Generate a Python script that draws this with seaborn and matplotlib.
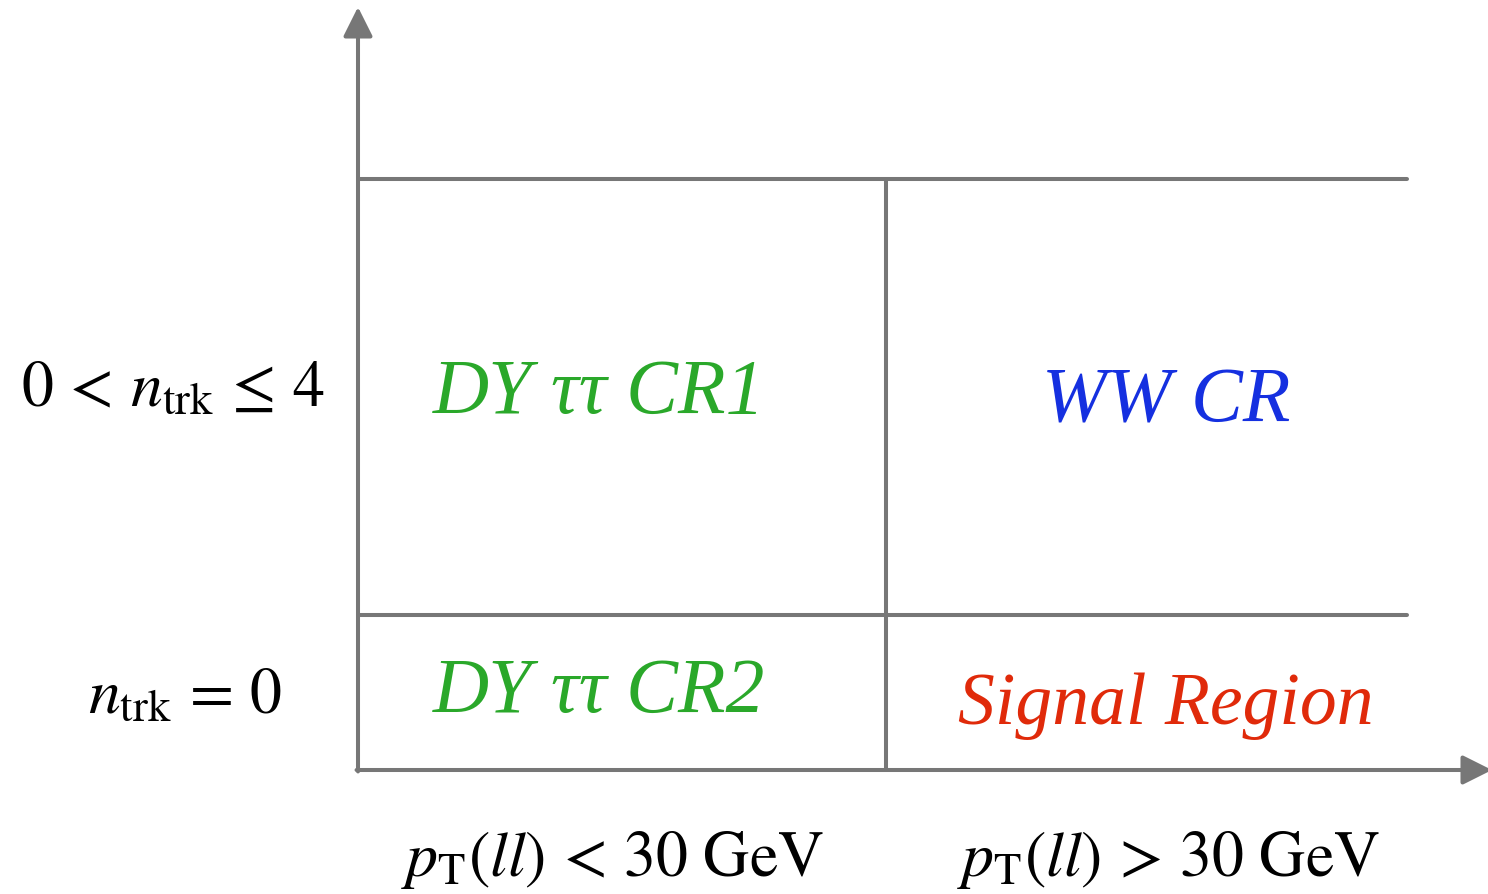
import matplotlib
matplotlib.use("Agg")
import matplotlib.pyplot as plt
import pandas as pd
import seaborn as sns

# Region names and colours, laid out as [row][column] (top row first)
region_names = [["DY ττ CR1", "WW CR"],
                ["DY ττ CR2", "Signal Region"]]
region_colors = [["#2aa82a", "#1530e0"],
                 ["#2aa82a", "#e02a0a"]]
row_labels = [r"$0\,<\,n_{\mathrm{trk}}\,\leq\,4$", r"$n_{\mathrm{trk}}\,=\,0$"]
col_labels = [r"$p_{\mathrm{T}}(ll)\,<\,30\ \mathrm{GeV}$",
              r"$p_{\mathrm{T}}(ll)\,>\,30\ \mathrm{GeV}$"]

# Layout (figure pixel frame, y downwards)
W, H = 1488, 895
x0, xcut, xend = 358, 886, 1407
ytop, ycut, y0 = 180, 616, 771
line_color = "#777777"
lw = 2.9

sns.set_theme(style="white")
plt.rcParams["mathtext.fontset"] = "stix"
plt.rcParams["font.family"] = ["STIXGeneral", "DejaVu Serif"]

fig = plt.figure(figsize=(W / 100, H / 100), dpi=100)
ax = fig.add_axes([0, 0, 1, 1])
ax.set_xlim(0, W)
ax.set_ylim(H, 0)
ax.axis("off")

# Grid segments separating the regions
segments = pd.DataFrame({
    "seg": [0, 0, 1, 1, 2, 2],
    "x": [x0, xend, x0, xend, xcut, xcut],
    "y": [ytop, ytop, ycut, ycut, ytop, y0],
})
sns.lineplot(data=segments, x="x", y="y", units="seg", estimator=None,
             sort=False, color=line_color, linewidth=lw, ax=ax, legend=False)

# Axes arrows
arrow = dict(arrowstyle="-|>", color=line_color, lw=lw,
             mutation_scale=45, shrinkA=0, shrinkB=0)
ax.annotate("", xy=(x0, 8), xytext=(x0, y0 + lw / 2), arrowprops=arrow,
            annotation_clip=False)
ax.annotate("", xy=(W + 4, y0), xytext=(x0 - lw / 2, y0), arrowprops=arrow,
            annotation_clip=False)

# Region labels
col_centers = [599, 1166]
row_centers = [[394, 403], [693, 706]]
label_sizes = [[56, 56], [56, 53]]
for r in range(2):
    for c in range(2):
        ax.text(col_centers[c], row_centers[r][c], region_names[r][c],
                color=region_colors[r][c], fontsize=label_sizes[r][c],
                fontstyle="italic", family=["Liberation Serif"],
                ha="center", va="center")

# Row labels (left) and column labels (bottom)
row_label_x = [325, 282]
row_label_y = [390, 697]
for lab, xr, yr in zip(row_labels, row_label_x, row_label_y):
    ax.text(xr, yr, lab, fontsize=46, color="black", ha="right", va="center")

col_label_x = [612, 1168]
for lab, xc in zip(col_labels, col_label_x):
    ax.text(xc, 860, lab, fontsize=46, color="black", ha="center", va="center")

fig.savefig("out.png", dpi=100)
